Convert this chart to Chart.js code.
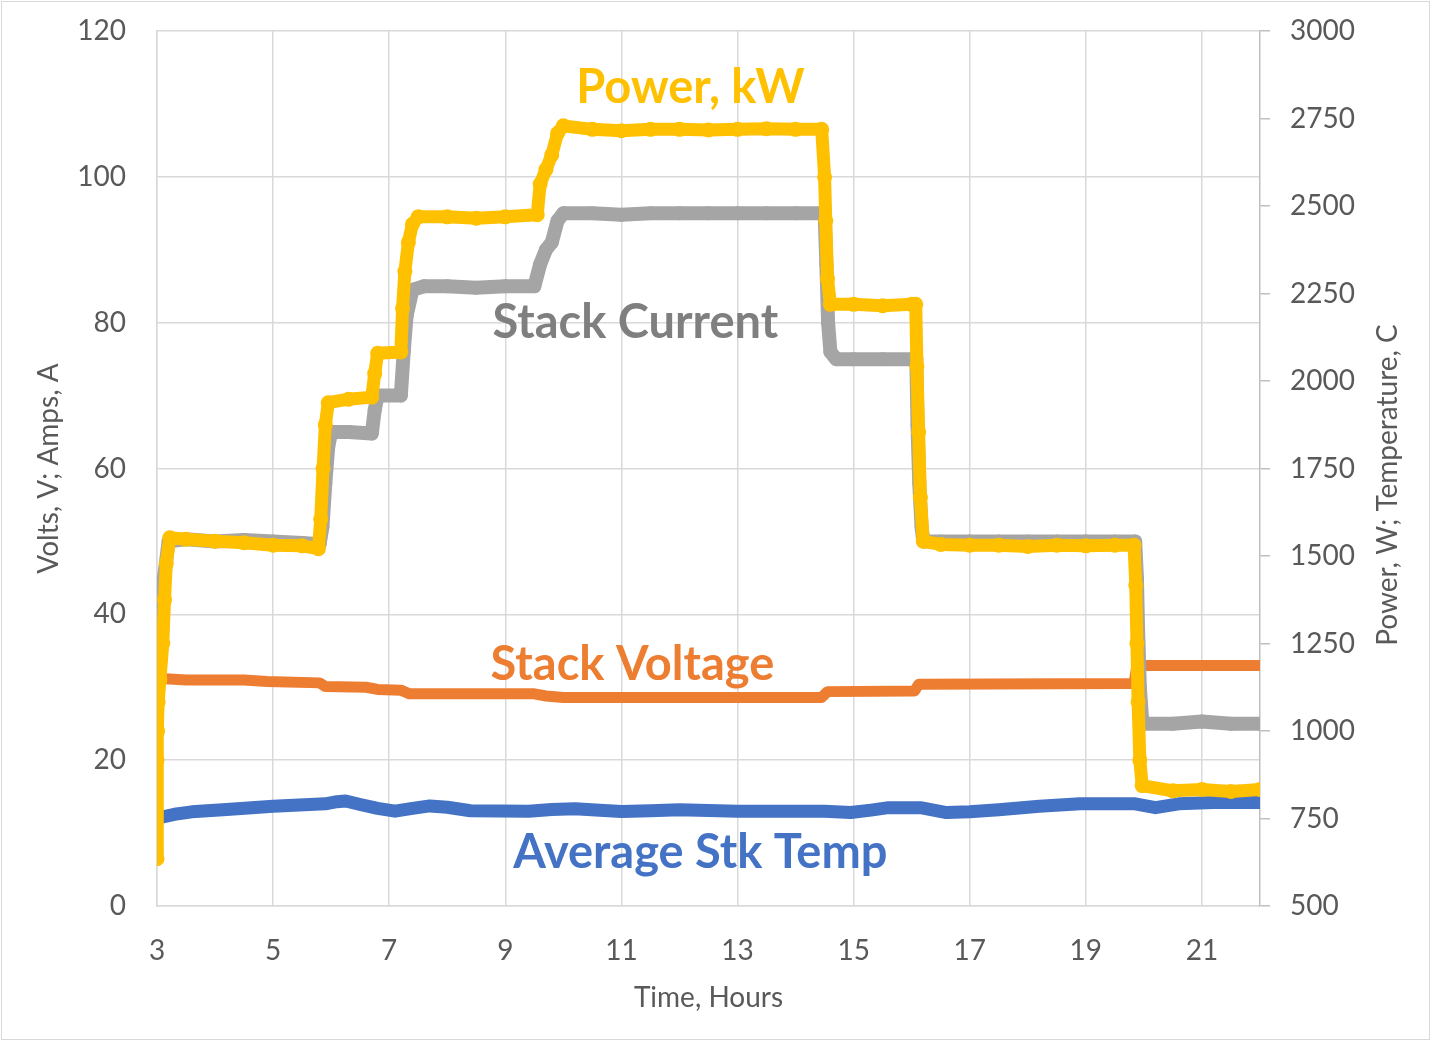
<!DOCTYPE html>
<html>
<head>
<meta charset="utf-8">
<script src="https://cdn.jsdelivr.net/npm/chart.js@4.4.1/dist/chart.umd.min.js"></script>
<style>
  html, body { margin: 0; padding: 0; background: #fff; }
  #wrap { width: 1431px; height: 1041px; }
</style>
</head>
<body>
<div id="wrap"><canvas id="stack-chart" width="1431" height="1041"></canvas></div>
<script>
// Datas (time in hours)
const xTicks = [3, 5, 7, 9, 11, 13, 15, 17, 19, 21];
const leftTicks = [0, 20, 40, 60, 80, 100, 120];
const rightTicks = [500, 750, 1000, 1250, 1500, 1750, 2000, 2250, 2500, 2750, 3000];

// Stack Current, A (left axis)
const currentTime = [3.0, 3.03, 3.07, 3.12, 3.2, 3.5, 4.0, 4.5, 5.0, 5.5, 5.8, 5.85, 5.9, 5.95, 6.0, 6.3, 6.7, 6.75, 6.8, 7.2,
  7.25, 7.3, 7.4, 7.6, 8.0, 8.5, 9.0, 9.5, 9.6, 9.7, 9.8, 9.9, 10.0, 10.5, 11.0, 11.5, 12.0, 12.5, 13.0, 13.5, 14.0, 14.5,
  14.53, 14.56, 14.6, 14.7, 15.0, 15.5, 16.0, 16.08, 16.1, 16.13, 16.17, 16.2, 16.5, 17.0, 17.5, 18.0, 18.5, 19.0, 19.5, 19.85,
  19.88, 19.9, 19.93, 19.97, 20.0, 20.5, 21.0, 21.5, 22.0];
const currentAmps = [33, 38, 40, 45, 50, 50.3, 50, 50.2, 50, 49.8, 49.6, 52, 58, 63, 65, 65, 64.8, 68, 70, 70,
  76, 81, 84.5, 85, 85, 84.8, 85, 85, 88, 90, 91, 94, 95, 95, 94.8, 95, 95, 95, 95, 95, 95, 95,
  88, 80, 76, 75, 75, 75, 75, 75, 66, 58, 52, 50, 50, 50, 50, 50, 50, 50, 50, 50,
  45, 38, 30, 25.5, 25, 25, 25.3, 25, 25];

// Stack Voltage, V (left axis)
const voltageTime = [3.0, 3.08, 3.5, 4.5, 4.9, 5.8, 5.9, 6.6, 6.8, 7.2, 7.35, 9.5, 9.7, 10.0, 14.45, 14.55, 16.05, 16.12, 19.83, 19.88, 22.0];
const voltageVolts = [33, 31.2, 31, 31, 30.8, 30.6, 30.1, 30, 29.7, 29.6, 29.1, 29.1, 28.8, 28.6, 28.6, 29.4, 29.5, 30.4, 30.5, 33, 33];

// Power, W (right axis)
const powerTime = [3.0, 3.0, 3.01, 3.02, 3.05, 3.1, 3.13, 3.16, 3.22, 3.5, 4.0, 4.5, 5.0, 5.5, 5.78, 5.82, 5.86, 5.9, 5.95,
  6.3, 6.7, 6.75, 6.8, 7.2, 7.23, 7.27, 7.33, 7.4, 7.5, 8.0, 8.5, 9.0, 9.55, 9.6, 9.7, 9.8, 9.9, 10.0, 10.5, 11.0, 11.5,
  12.0, 12.5, 13.0, 13.5, 14.0, 14.45, 14.5, 14.52, 14.55, 14.6, 15.0, 15.5, 16.0, 16.07, 16.09, 16.12, 16.15, 16.2, 16.5,
  17.0, 17.5, 18.0, 18.5, 19.0, 19.5, 19.83, 19.86, 19.88, 19.9, 19.93, 19.97, 20.5, 21.0, 21.5, 22.0];
const powerWatts = [635, 917, 1000, 1083, 1146, 1250, 1375, 1479, 1552, 1548, 1542, 1538, 1531, 1529, 1521, 1604, 1750, 1875, 1938,
  1948, 1954, 2021, 2079, 2083, 2208, 2313, 2396, 2448, 2469, 2469, 2465, 2469, 2475, 2563, 2604, 2646, 2708, 2729, 2719, 2715, 2719,
  2719, 2717, 2719, 2721, 2719, 2719, 2583, 2458, 2292, 2219, 2219, 2215, 2219, 2219, 2042, 1854, 1667, 1542, 1533,
  1531, 1531, 1527, 1531, 1529, 1531, 1531, 1417, 1250, 1083, 917, 844, 829, 833, 827, 833];

// Average Stk Temp, C (right axis)
const tempTime = [3.0, 3.3, 3.6, 4.2, 5.0, 5.9, 6.1, 6.25, 6.5, 6.8, 7.1, 7.4, 7.7, 8.0, 8.4, 9.4, 9.8, 10.2, 10.7, 11.0,
  11.5, 12.0, 12.5, 13.0, 14.5, 14.95, 15.3, 15.6, 16.15, 16.6, 17.0, 17.5, 18.2, 18.9, 19.85, 20.2, 20.6, 21.2, 22.0];
const tempC = [751, 762, 769, 776, 785, 792, 798, 800, 790, 779, 771, 779, 786, 782, 772, 771, 776, 778, 773, 770,
  772, 775, 773, 771, 771, 767, 774, 781, 781, 767, 769, 775, 785, 792, 792, 781, 792, 796, 796];

const toXY = (xs, ys) => xs.map((x, i) => ({ x: x, y: ys[i] }));
const fixTicks = (list) => (axis) => { axis.ticks = list.map(v => ({ value: v })); };
// fixed box size, no extra label overhang padding
const fixBox = (w, h) => (axis) => {
  if (w) axis.width = w;
  if (h) axis.height = h;
  axis.paddingTop = 0; axis.paddingBottom = 0;
  axis.paddingLeft = 0; axis.paddingRight = 0;
};

const axisFont = { family: 'Lato', size: 28 };
const textGrey = '#595959';

// Series labels + right title + outer frame
const annotate = {
  id: 'annotate',
  afterDatasetsDraw(chart) {
    const ctx = chart.ctx;
    const xs = chart.scales.x, ys = chart.scales.y;
    const items = [
      ['Power, kW', 12.19, 112.2, '#FFC000'],
      ['Stack Current', 11.24, 80.0, '#7F7F7F'],
      ['Stack Voltage', 11.19, 33.1, '#ED7D31'],
      ['Average Stk Temp', 12.36, 7.3, '#4472C4']
    ];
    ctx.save();
    ctx.font = 'bold 47px Lato';
    ctx.textAlign = 'center';
    ctx.textBaseline = 'middle';
    items.forEach(([txt, x, y, col]) => {
      ctx.fillStyle = col;
      ctx.fillText(txt, xs.getPixelForValue(x), ys.getPixelForValue(y));
    });
    // right axis title, reading upward
    ctx.translate(1388, 485);
    ctx.rotate(-Math.PI / 2);
    ctx.font = '28px Lato';
    ctx.fillStyle = textGrey;
    ctx.fillText('Power, W; Temperature, C', 0, 0);
    ctx.restore();

    ctx.save();
    ctx.strokeStyle = '#D9D9D9';
    ctx.lineWidth = 1;
    ctx.strokeRect(1.5, 1.5, chart.width - 3, chart.height - 3);
    ctx.restore();
  }
};

const line = (data, color, axis, extra) => Object.assign({
  data: data,
  yAxisID: axis,
  borderColor: color,
  backgroundColor: color,
  borderWidth: 13,
  borderJoinStyle: 'round',
  borderCapStyle: 'round',
  pointRadius: 0,
  tension: 0,
  fill: false
}, extra || {});

const ctx = document.getElementById('stack-chart').getContext('2d');
const myChart = new Chart(ctx, {
  type: 'line',
  data: {
    datasets: [
      line(toXY(powerTime, powerWatts), '#FFC000', 'y2', { borderWidth: 13, pointRadius: 7.5, pointBorderWidth: 0 }),
      line(toXY(currentTime, currentAmps), '#A5A5A5', 'y', { borderWidth: 14, pointRadius: 7, pointBorderWidth: 0 }),
      line(toXY(voltageTime, voltageVolts), '#ED7D31', 'y', { borderWidth: 11 }),
      line(toXY(tempTime, tempC), '#4472C4', 'y2', { borderWidth: 13 })
    ]
  },
  options: {
    responsive: false,
    animation: false,
    layout: { padding: { top: 31, left: 0, right: 0, bottom: 0 } },
    plugins: { legend: { display: false }, tooltip: { enabled: false } },
    scales: {
      x: {
        type: 'linear',
        min: 3,
        max: 22,
        afterBuildTicks: fixTicks(xTicks),
        afterFit: fixBox(0, 135),
        grid: { color: '#D9D9D9', lineWidth: 1.5, drawTicks: false },
        border: { display: true, color: '#D9D9D9', width: 1.5 },
        ticks: { font: axisFont, color: textGrey, padding: 28, maxRotation: 0 },
        title: { display: true, text: 'Time, Hours', font: axisFont, color: textGrey, padding: { top: 0, bottom: 26 } }
      },
      y: {
        position: 'left',
        min: 0,
        max: 120,
        afterBuildTicks: fixTicks(leftTicks),
        afterFit: fixBox(157, 0),
        grid: { color: '#D9D9D9', lineWidth: 1.5, drawTicks: false },
        border: { display: true, color: '#D9D9D9', width: 1.5 },
        ticks: { font: axisFont, color: textGrey, padding: 31 },
        title: { display: true, text: 'Volts, V; Amps, A', font: axisFont, color: textGrey, padding: { top: 32, bottom: 0 } }
      },
      y2: {
        position: 'right',
        min: 500,
        max: 3000,
        afterBuildTicks: fixTicks(rightTicks),
        afterFit: fixBox(171, 0),
        grid: { drawOnChartArea: false, color: '#BFBFBF', tickLength: 10, lineWidth: 1.5 },
        border: { display: true, color: '#BFBFBF', width: 1.5 },
        ticks: { font: axisFont, color: textGrey, padding: 20, callback: (v) => String(v) }
      }
    }
  },
  plugins: [annotate]
});
</script>
</body>
</html>
